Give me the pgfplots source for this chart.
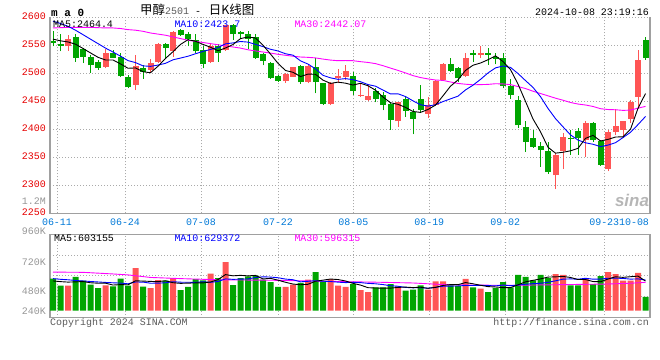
\documentclass[border=0pt]{standalone}
\usepackage{fontspec}
\setmainfont{Liberation Mono}
\newfontfamily\cjk{Noto Sans CJK SC}
\newfontfamily\sansf{Liberation Sans}
\usepackage{pgfplots}
\usepackage{pgfplotstable}
\pgfplotsset{compat=1.18}

\definecolor{pricered}{RGB}{230,0,0}
\definecolor{dateblue}{RGB}{0,120,215}
\definecolor{candlered}{RGB}{255,85,85}
\definecolor{candlegreen}{RGB}{0,165,0}
\definecolor{gridgray}{RGB}{170,170,170}
\definecolor{axisgray}{RGB}{160,160,160}
\definecolor{volgray}{RGB}{150,150,150}
\definecolor{txtgray}{RGB}{90,90,90}
\definecolor{mablue}{RGB}{0,0,255}
\definecolor{mamag}{RGB}{255,0,255}

% red (rising) candles: index, open, high, low, close, volume (K)
\pgfplotstableread{
k o h l c v
2 2548 2568 2540 2561 538
7 2512 2543 2509 2537 545
11 2479 2533 2470 2513 918
13 2506 2525 2503 2519 488
14 2521 2555 2519 2553 660
16 2540 2576 2530 2573 703
21 2521 2553 2518 2548 796
23 2542 2587 2540 2586 1047
31 2486 2501 2483 2498 510
32 2494 2512 2493 2511 559
34 2485 2515 2482 2513 667
37 2446 2484 2443 2482 681
38 2491 2508 2482 2495 538
39 2494 2515 2488 2504 515
41 2460 2482 2458 2462 445
42 2453 2479 2450 2460 402
46 2414 2449 2405 2448 524
50 2428 2458 2420 2443 452
51 2443 2488 2442 2487 632
52 2488 2518 2487 2516 632
55 2495 2537 2494 2528 682
57 2533 2548 2527 2536 473
67 2318 2357 2293 2354 789
68 2361 2393 2329 2386 768
71 2381 2414 2351 2412 703
74 2329 2399 2325 2396 832
75 2396 2437 2389 2406 789
76 2399 2415 2384 2414 645
77 2418 2452 2411 2448 645
78 2458 2542 2437 2524 811
}\redtab

% green (falling) candles
\pgfplotstableread{
k o h l c v
0 2558 2575 2548 2554 688
1 2552 2571 2539 2549 538
3 2565 2570 2521 2528 725
4 2543 2545 2518 2530 645
5 2530 2533 2501 2514 559
6 2521 2524 2506 2510 488
8 2537 2542 2527 2528 524
9 2530 2536 2493 2495 688
10 2493 2497 2473 2475 538
12 2510 2515 2490 2503 516
15 2552 2555 2527 2545 645
17 2578 2580 2567 2568 445
18 2571 2573 2548 2561 510
19 2559 2571 2536 2539 681
20 2542 2548 2509 2517 653
22 2548 2553 2521 2536 703
24 2586 2588 2560 2570 552
25 2573 2575 2561 2570 703
26 2571 2575 2543 2562 739
27 2564 2571 2526 2527 753
28 2535 2537 2514 2522 667
29 2518 2521 2490 2491 617
30 2495 2497 2485 2487 510
33 2513 2515 2481 2484 596
35 2511 2527 2464 2485 832
36 2482 2483 2443 2446 631
40 2495 2503 2461 2468 574
43 2468 2473 2448 2455 503
44 2461 2467 2434 2443 503
45 2445 2448 2399 2417 574
47 2454 2458 2422 2433 430
48 2431 2437 2391 2418 452
49 2455 2479 2431 2435 546
53 2516 2527 2503 2504 546
54 2509 2512 2484 2491 531
56 2537 2542 2521 2533 503
58 2536 2546 2515 2533 402
59 2530 2537 2516 2526 488
60 2528 2536 2473 2477 617
61 2478 2490 2454 2461 503
62 2452 2460 2403 2407 768
63 2404 2414 2360 2378 725
64 2385 2398 2367 2369 653
65 2371 2378 2333 2363 768
66 2361 2378 2321 2323 703
69 2385 2399 2355 2382 546
70 2397 2402 2355 2385 546
72 2412 2413 2378 2381 574
73 2379 2381 2335 2336 746
79 2560 2565 2524 2527 295
}\greentab

% moving averages: price MA5, MA10, MA30; volume MA5, MA10
\pgfplotstableread{
k ma5 ma10 ma30 vma5 vma10
0 2561 2593 2581 640 690
1 2558 2589 2581.5 625 675
2 2556 2584 2582 615 665
3 2552 2577 2582 620 650
4 2544.4 2569 2582 627 640
5 2536.4 2561 2582 601 628
6 2528.6 2553 2581.5 591 618
7 2523.8 2545 2581 592 608
8 2523.8 2538 2581 552 600
9 2516.8 2530.6 2580 561 594
10 2509 2522.7 2578 557 579
11 2509.6 2519.1 2577 643 617
12 2502.8 2513.3 2575 637 615
13 2501 2512.4 2572 630 591
14 2512.6 2514.7 2570 624 592
15 2526.6 2517.8 2568 645 601
16 2538.6 2524.1 2565 602 623
17 2551.6 2527.2 2562 588 613
18 2560 2530.5 2559 593 611
19 2557.2 2534.9 2557 597 610
20 2551.6 2539.1 2555 598 622
21 2546.6 2542.6 2553 617 610
22 2540.2 2545.9 2551 669 628
23 2545.2 2552.6 2549 776 684
24 2551.4 2554.3 2547 750 674
25 2562 2556.8 2545 760 679
26 2564.8 2555.7 2542 749 683
27 2563 2551.6 2540 759 714
28 2550.2 2547.7 2538 683 729
29 2534.4 2542.9 2536.1 696 723
30 2517.8 2539.9 2533.9 657 709
31 2505 2534.9 2532.2 611 680
32 2501.8 2532.4 2530.5 573 666
33 2494.2 2522.2 2529.1 558 621
34 2498.6 2516.5 2528.5 568 632
35 2498.2 2508 2527.5 633 645
36 2487.8 2496.4 2525.4 657 634
37 2482 2491.9 2523.6 681 627
38 2484.2 2489.2 2522.5 670 614
39 2482.4 2490.5 2522.8 639 604
40 2479 2488.6 2522.5 588 610
41 2482.2 2485 2520.8 551 604
42 2477.8 2479.9 2519.4 495 588
43 2469.8 2477 2517.3 488 579
44 2457.6 2470 2513.6 485 562
45 2447.4 2463.2 2509.3 485 537
46 2444.6 2463.4 2505.2 501 526
47 2439.2 2458.5 2500.7 507 501
48 2431.8 2450.8 2495.9 497 492
49 2430.2 2443.9 2492.4 505 495
50 2435.4 2441.4 2490 481 483
51 2443.2 2443.9 2488 502 502
52 2459.8 2449.5 2487.3 543 525
53 2477 2454.4 2484.5 562 529
54 2488.2 2459.2 2481.9 559 532
55 2505.2 2470.3 2480.5 605 543
56 2514.4 2478.8 2479.5 579 541
57 2518.4 2489.1 2479.8 547 545
58 2524.2 2500.6 2480.2 518 540
59 2531.2 2509.7 2481.4 510 534
60 2521 2513.1 2481 497 551
61 2506.6 2510.5 2479.8 497 538
62 2480.8 2499.6 2476.3 556 551
63 2449.8 2487 2472.8 620 569
64 2418.4 2474.8 2468 653 581
65 2395.6 2458.3 2463.9 683 590
66 2368 2437.3 2459.8 723 610
67 2357.4 2419.1 2455.6 728 642
68 2359 2404.4 2451.9 736 678
69 2361.6 2390 2447.9 715 684
70 2366 2380.8 2445.1 670 677
71 2383.8 2375.9 2443.4 670 697
72 2389.2 2373.3 2440.8 627 678
73 2379.2 2369.1 2436.8 623 680
74 2382 2371.8 2435.3 680 698
75 2386.2 2376.1 2434.9 729 700
76 2386.6 2385.2 2433.8 717 694
77 2400 2394.6 2434.3 731 679
78 2437.6 2408.4 2437.8 744 684
79 2463.8 2422.9 2440.9 637 659
}\matab

% volume MA30
\pgfplotstableread{
k vma30
0 830
4 825
8 790
10 770
13 715
17 690
22 665
30 653
39 625
44 610
48 596
52 562
56 550
61 546
66 556
70 565
74 574
77 590
79 610
}\vmathirty

\pgfplotsset{
  candle/.style n args={2}{draw=none, mark=none,
    error bars/.cd, y dir=plus, y explicit, error mark=none,
    error bar style={line width=#2, draw=#1, line cap=butt}},
}

\begin{document}
\begin{tikzpicture}
\path[use as bounding box] (0,0) rectangle (660bp,-360bp);

% header texts
\node[anchor=base west, inner sep=0, font=\fontsize{11}{11}\selectfont\bfseries] at (51bp,-16bp) {m a 0};
\node[anchor=base west, inner sep=0] at (140bp,-14.5bp)
  {{\cjk\fontsize{12.5}{12.5}\selectfont 甲醇}{\color{txtgray}\fontsize{10}{10}\selectfont 2501}{\fontsize{10}{10}\selectfont\ -\ \hspace{2bp}}{\cjk\fontsize{12.5}{12.5}\selectfont 日K线图}};
\node[anchor=base east, inner sep=0, font=\fontsize{10}{10}\selectfont] at (649bp,-15.7bp) {2024-10-08 23:19:16};

% ---------------- price panel ----------------
\begin{axis}[
  at={(50bp,-213.3bp)}, anchor=south west,
  scale only axis, width=600bp, height=196bp,
  xmin=-0.4, xmax=79.6, ymin=2250, ymax=2600,
  axis line style={draw=none},
  xtick={0.53,9.6,19.73,30,40.04,50.17,60.3,73.5},
  xticklabels={06-11,06-24,07-08,07-22,08-05,08-19,09-02,09-23},
  extra x ticks={77.47}, extra x tick labels={10-08},
  extra x tick style={grid=none},
  ytick={2250,2300,2350,2400,2450,2500,2550,2600},
  yticklabels={2250,2300,2350,2400,2450,2500,2550,2600},
  grid=major,
  grid style={line width=0.8bp, draw=gridgray, dash pattern=on 1bp off 2bp},
  major tick length=0pt,
  tick label style={font=\fontsize{10}{10}\selectfont, inner sep=0pt},
  xticklabel style={text=dateblue, anchor=base, yshift=-11.7bp},
  yticklabel style={text=pricered, anchor=base east, yshift=-2.3bp, xshift=-4bp},
  clip=false,
]
\addplot[candle={candlegreen}{1bp}] table[x=k, y=l, y error plus expr=\thisrow{h}-\thisrow{l}] {\greentab};
\addplot[candle={candlered}{1bp}] table[x=k, y=l, y error plus expr=\thisrow{h}-\thisrow{l}] {\redtab};
\addplot[candle={candlegreen}{6bp}] table[x=k, y=c, y error plus expr={max(\thisrow{o}-\thisrow{c},1.5)}] {\greentab};
\addplot[candle={candlered}{6bp}] table[x=k, y=o, y error plus expr={max(\thisrow{c}-\thisrow{o},1.5)}] {\redtab};
\addplot[mamag, line width=0.9bp] table[x=k, y=ma30] {\matab};
\addplot[mablue, line width=0.9bp] table[x=k, y=ma10] {\matab};
\addplot[black, line width=0.9bp] table[x=k, y=ma5] {\matab};
\draw[axisgray, line width=1.5bp] (rel axis cs:0,1) -- (rel axis cs:0,0) -- (rel axis cs:1,0) -- (rel axis cs:1,1);
\end{axis}

\node[anchor=base west, inner sep=0, font=\fontsize{10}{10}\selectfont] at (53bp,-27.3bp) {MA5:2464.4};
\node[anchor=base west, inner sep=0, font=\fontsize{10}{10}\selectfont, text=mablue] at (174.3bp,-27.3bp) {MA10:2423.7};
\node[anchor=base west, inner sep=0, font=\fontsize{10}{10}\selectfont, text=mamag] at (294.3bp,-27.3bp) {MA30:2442.07};
\node[anchor=base east, inner sep=0, font=\fontsize{10}{10}\selectfont, text=volgray] at (46bp,-204bp) {1.2M};
\node[anchor=center, inner sep=0, font=\sansf\bfseries\itshape\fontsize{17}{17}\selectfont, text=volgray!70] at (632bp,-200bp) {sina};

% ---------------- volume panel ----------------
\begin{axis}[
  at={(50bp,-317.7bp)}, anchor=south west,
  scale only axis, width=600bp, height=83.4bp,
  xmin=-0.4, xmax=79.6, ymin=-150.5, ymax=1642.6,
  axis line style={draw=axisgray, line width=1.5bp},
  xtick={0.53,9.6,19.73,30,40.04,50.17,60.3,73.5},
  xticklabels={},
  ytick={316,761.1,1197.6}, yticklabels={},
  grid=major,
  grid style={line width=0.8bp, draw=gridgray, dash pattern=on 1bp off 2bp},
  major tick length=0pt,
  clip=false,
]
\addplot[ybar, bar width=6bp, bar shift=0pt, fill=candlegreen, draw=none] table[x=k, y=v] {\greentab};
\addplot[ybar, bar width=6bp, bar shift=0pt, fill=candlered, draw=none] table[x=k, y=v] {\redtab};
\addplot[mamag, line width=0.9bp] table[x=k, y=vma30] {\vmathirty};
\addplot[mablue, line width=0.9bp] table[x=k, y=vma10] {\matab};
\addplot[black, line width=0.9bp] table[x=k, y=vma5] {\matab};
\end{axis}

\node[anchor=base west, inner sep=0, font=\fontsize{10}{10}\selectfont] at (54bp,-241.7bp) {MA5:603155};
\node[anchor=base west, inner sep=0, font=\fontsize{10}{10}\selectfont, text=mablue] at (174.3bp,-241.7bp) {MA10:629372};
\node[anchor=base west, inner sep=0, font=\fontsize{10}{10}\selectfont, text=mamag] at (294.3bp,-241.7bp) {MA30:596315};
\node[anchor=base east, inner sep=0, font=\fontsize{10}{10}\selectfont, text=volgray] at (46bp,-234.3bp) {960K};
\node[anchor=base east, inner sep=0, font=\fontsize{10}{10}\selectfont, text=volgray] at (46bp,-265bp) {720K};
\node[anchor=base east, inner sep=0, font=\fontsize{10}{10}\selectfont, text=volgray] at (46bp,-294bp) {480K};
\node[anchor=base east, inner sep=0, font=\fontsize{10}{10}\selectfont, text=volgray] at (46bp,-314bp) {240K};
\node[anchor=base west, inner sep=0, font=\fontsize{10}{10}\selectfont, text=txtgray] at (50bp,-325bp) {Copyright 2024 SINA.COM};
\node[anchor=base east, inner sep=0, font=\fontsize{10}{10}\selectfont, text=txtgray] at (649bp,-325bp) {http://finance.sina.com.cn};
\end{tikzpicture}
\end{document}
